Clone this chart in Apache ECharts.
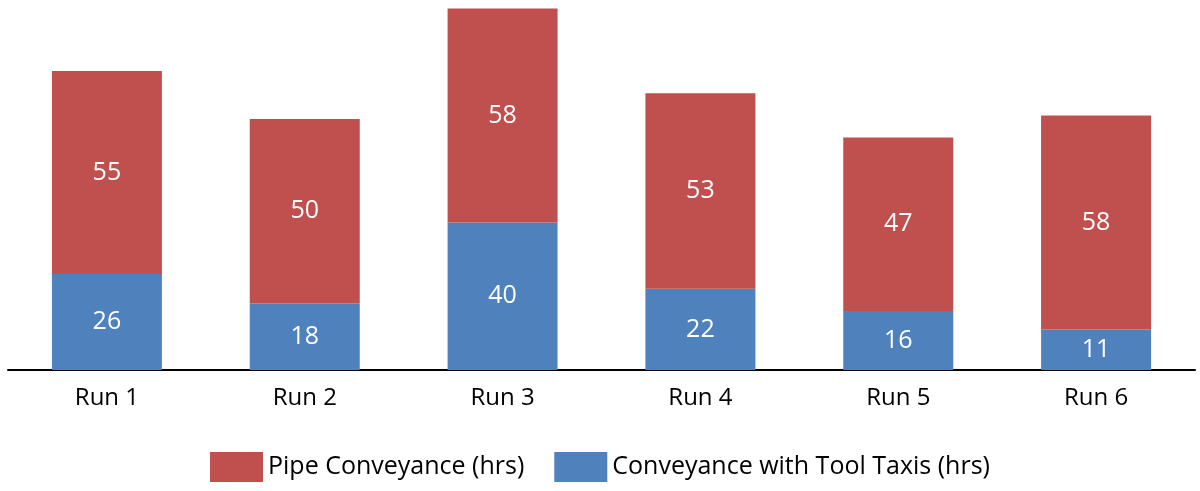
<!DOCTYPE html>
<html><head><meta charset="utf-8">
<script src="https://cdn.jsdelivr.net/npm/echarts@6/dist/echarts.min.js"></script>
<style>html,body{margin:0;padding:0;background:#fff}#c{width:1200px;height:491px}</style>
</head><body><div id="c"></div>
<script>
const categories = ['Run 1','Run 2','Run 3','Run 4','Run 5','Run 6'];
const toolTaxis = [26,18,40,22,16,11];
const pipe = [55,50,58,53,47,58];
const chart = echarts.init(document.getElementById('c'));
const font = '"Open Sans", sans-serif';
const lbl = {show:true, position:'inside', color:'#fff', fontSize:25, fontFamily:font};
chart.setOption({
  animation:false,
  grid:{left:8, right:5, top:1, bottom:121},
  legend:{data:['Pipe Conveyance (hrs)','Conveyance with Tool Taxis (hrs)'], left:205, top:447,
    itemWidth:53, itemHeight:30, itemGap:30, icon:'rect',
    textStyle:{fontSize:25, fontFamily:font, color:'#000'}},
  xAxis:{type:'category', data:categories, axisTick:{show:false},
    axisLine:{lineStyle:{color:'#000', width:2}},
    axisLabel:{fontSize:24, fontFamily:font, color:'#000', margin:16}},
  yAxis:{type:'value', min:0, max:100, show:false, splitLine:{show:false}},
  series:[
    {name:'Conveyance with Tool Taxis (hrs)', type:'bar', stack:'a', data:toolTaxis, barWidth:110,
      itemStyle:{color:'#4F81BD'}, label:lbl},
    {name:'Pipe Conveyance (hrs)', type:'bar', stack:'a', data:pipe, barWidth:110,
      itemStyle:{color:'#C0504D'}, label:lbl}
  ]
});
</script></body></html>
